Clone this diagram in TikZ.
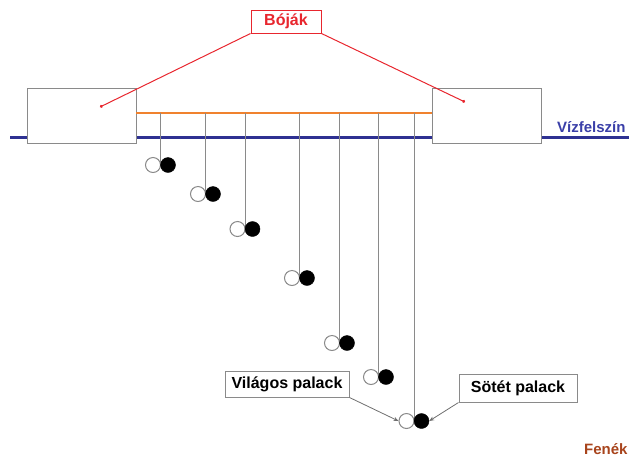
\documentclass[tikz,border=0pt]{standalone}
\usepackage{fontspec}
\setmainfont{Liberation Sans}
\usetikzlibrary{arrows.meta}
\definecolor{waterblue}{HTML}{2E3192}
\definecolor{labelblue}{HTML}{3A3FA8}
\definecolor{buoyred}{HTML}{E8262E}
\definecolor{ropeorange}{HTML}{F0822E}
\definecolor{bottombrown}{HTML}{A8441C}
\definecolor{linegray}{HTML}{8A8A8A}
\tikzset{
  lbl/.style={font=\fontsize{15}{18}\selectfont\bfseries, inner sep=0pt},
  buoy/.style={draw=linegray, line width=1pt, fill=white, minimum width=109pt, minimum height=55pt, inner sep=0pt},
  tagbox/.style={draw=linegray, line width=1pt, fill=white, inner sep=0pt, font=\fontsize{16}{19}\selectfont\bfseries},
  light/.style={circle, draw=linegray, line width=1pt, fill=white, minimum size=15pt, inner sep=0pt},
  dark/.style={circle, draw=black, fill=black, minimum size=15pt, inner sep=0pt},
  cord/.style={draw=linegray, line width=1pt},
  pointer/.style={draw=linegray!80!black, line width=0.8pt, -{Stealth[length=5pt,width=4pt]}},
  redptr/.style={draw=buoyred, line width=1pt, -{Circle[length=3pt]}}
}
\begin{document}
\begin{tikzpicture}[x=1pt,y=-1pt]
\useasboundingbox (0,0) rectangle (629,459);
% water surface
\draw[waterblue, line width=3pt] (10,137) -- (629,137);
% buoys
\node[buoy] (lb) at (81.5,115.5) {};
\node[buoy] (rb) at (486.5,115.5) {};
% rope
\coordinate (ropeL) at (136,113);
\coordinate (ropeR) at (432,113);
\draw[ropeorange, line width=2pt] (ropeL) -- (ropeR);
% bottles
\foreach \n/\x/\y in {1/160.5/165,2/205.5/194,3/245/229,4/299.5/278,5/339.5/343,6/378.5/377,7/414/421}{
  \coordinate (top\n) at (\x,113);
  \coordinate (j\n) at (\x,\y);
  \draw[cord] (top\n) -- (j\n);
  \node[light] (w\n) at (\x-7.5,\y) {};
  \node[dark] (b\n) at (\x+7.5,\y) {};
}
% labels
\node[lbl, text=labelblue, anchor=west] (surf) at (557,127) {Vízfelszín};
\node[lbl, text=bottombrown, anchor=west] (bottom) at (584,449) {Fenék};
\node[draw=buoyred, line width=1pt, fill=white, minimum width=70pt, minimum height=23pt, inner sep=0pt, text=buoyred, font=\fontsize{16}{19}\selectfont\bfseries] (bojak) at (286,21.5) {Bóják};
\draw[redptr] (bojak.south west) -- (100,107);
\draw[redptr] (bojak.south east) -- (465,102);
\node[tagbox, minimum width=124pt, minimum height=26pt] (vil) at (287,384) {Világos palack};
\node[tagbox, minimum width=118pt, minimum height=28pt] (sot) at (518,388) {Sötét palack};
\draw[pointer] (vil.south east) -- (w7.west);
\draw[pointer] (sot.south west) -- (b7.east);
\end{tikzpicture}
\end{document}
